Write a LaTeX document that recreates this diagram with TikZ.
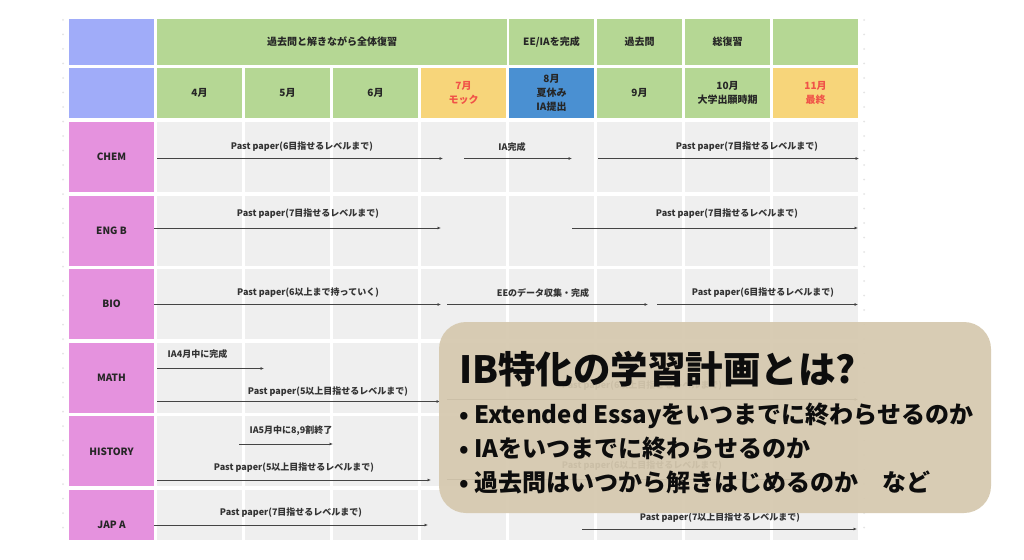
\documentclass[tikz,border=0pt]{standalone}
\usepackage{fontspec}
\setmainfont{Noto Sans CJK JP}
\usepackage{tikz}
\usetikzlibrary{arrows.meta,positioning}
\definecolor{sideColor}{RGB}{160, 172, 249}
\definecolor{greenColor}{RGB}{181, 215, 148}
\definecolor{yellowColor}{RGB}{247, 213, 122}
\definecolor{blueColor}{RGB}{74, 144, 210}
\definecolor{pinkColor}{RGB}{229, 146, 222}
\definecolor{cellColor}{RGB}{239, 239, 239}
\definecolor{redText}{RGB}{240, 82, 72}
\definecolor{barColor}{RGB}{68, 68, 68}
\definecolor{boxColor}{RGB}{214, 201, 175}
\definecolor{dotColor}{RGB}{228, 228, 228}

\tikzset{
    cell/.style={rectangle, inner sep=0pt, minimum width=85pt, align=center,
        font=\fontsize{10}{14}\bfseries\selectfont, text=black!85},
    topcell/.style={cell, minimum height=46pt},
    monthcell/.style={cell, minimum height=50pt},
    rowcell/.style={cell, minimum height=70pt},
    bar/.style={draw=barColor, line width=0.9pt, -{Latex[length=3.5pt,width=3pt]}},
    barlabel/.style={inner sep=0pt, font=\fontsize{9}{11}\bfseries\selectfont, text=black!80},
    infobox/.style={rectangle, rounded corners=27pt, fill=boxColor, fill opacity=0.93,
        minimum width=552pt, minimum height=191pt},
    infotext/.style={inner sep=0pt, anchor=west, text=black!95}
}

% name, x start, x end, y, label x, label y, label
\newcommand{\planbar}[7]{%
    \coordinate (#1-s) at (#2,#4);
    \coordinate (#1-e) at (#3,#4);
    \draw[bar] (#1-s) -- (#1-e);
    \node[barlabel] (#1-t) at (#5,#6) {#7};
}

\begin{document}
\begin{tikzpicture}[x=1pt, y=-1pt]
    \useasboundingbox (0,0) rectangle (1024,559);
    \fill[white] (0,0) rectangle (1024,559);

    % Canvas dots
    \foreach \y in {20,34.5,...,535} {
        \fill[dotColor] (63,\y) circle (1pt);
        \fill[dotColor] (864,\y) circle (1pt);
    }

    % Top header row
    \node[topcell, fill=sideColor] (corner1) at (111.5,42) {};
    \node[topcell, fill=greenColor, minimum width=350pt] (phaseA) at (332,42) {過去問と解きながら全体復習};
    \node[topcell, fill=greenColor] (phaseB) at (551.5,42) {EE/IAを完成};
    \node[topcell, fill=greenColor] (phaseC) at (639.5,42) {過去問};
    \node[topcell, fill=greenColor] (phaseD) at (727.5,42) {総復習};
    \node[topcell, fill=greenColor] (phaseE) at (815.5,42) {};

    % Month row
    \node[monthcell, fill=sideColor] (corner2) at (111.5,93) {};
    \node[monthcell, fill=greenColor] (apr) at (199.5,93) {4月};
    \node[monthcell, fill=greenColor] (may) at (287.5,93) {5月};
    \node[monthcell, fill=greenColor] (jun) at (375.5,93) {6月};
    \node[monthcell, fill=yellowColor, text=redText] (jul) at (463.5,93) {7月\\モック};
    \node[monthcell, fill=blueColor] (aug) at (551.5,93) {8月\\夏休み\\IA提出};
    \node[monthcell, fill=greenColor] (sep) at (639.5,93) {9月};
    \node[monthcell, fill=greenColor] (oct) at (727.5,93) {10月\\大学出願時期};
    \node[monthcell, fill=yellowColor, text=redText] (nov) at (815.5,93) {11月\\最終};

    % Subject rows
    \foreach \r/\subj in {0/CHEM, 1/ENG B, 2/BIO, 3/MATH, 4/HISTORY, 5/JAP A} {
        \node[rowcell, fill=pinkColor] (subj\r) at (111.5,157+73.6*\r) {\subj};
        \foreach \c in {0,...,7}
            \node[rowcell, fill=cellColor] (cell\r-\c) at (199.5+88*\c,157+73.6*\r) {};
    }
    \fill[white] (0,540) rectangle (1024,575);

    % CHEM
    \planbar{chemA}{157}{443}{158.5}{302}{147}{Past paper(6目指せるレベルまで)}
    \planbar{chemB}{464}{572}{158.5}{512}{147}{IA完成}
    \planbar{chemC}{598}{859}{158.5}{747}{147}{Past paper(7目指せるレベルまで)}
    % ENG B
    \planbar{engA}{154}{441}{228}{308}{214}{Past paper(7目指せるレベルまで)}
    \planbar{engB}{572}{858}{228}{727}{214}{Past paper(7目指せるレベルまで)}
    % BIO
    \planbar{bioA}{154}{441}{304.5}{308}{293}{Past paper(6以上まで持っていく)}
    \planbar{bioB}{447}{648}{304.5}{543}{293}{EEのデータ収集・完成}
    \planbar{bioC}{657}{858}{304.5}{763}{293}{Past paper(6目指せるレベルまで)}
    % MATH
    \planbar{mathA}{157}{264}{368.5}{197.5}{354}{IA4月中に完成}
    \planbar{mathB}{157}{440}{401.5}{328}{392}{Past paper(5以上目指せるレベルまで)}
    \planbar{mathC}{447}{858}{399.5}{642}{386}{Past paper(6以上目指せるレベルまで)}
    % HISTORY
    \planbar{histA}{239}{333}{444}{291}{431}{IA5月中に8,9割終了}
    \planbar{histB}{157}{431}{480}{294}{468}{Past paper(5以上目指せるレベルまで)}
    \planbar{histC}{447}{858}{479}{642}{466}{Past paper(6以上目指せるレベルまで)}
    % JAP A
    \planbar{japA}{154}{428}{525}{291}{513}{Past paper(7目指せるレベルまで)}
    \planbar{japB}{582}{857}{529}{720}{518}{Past paper(7以上目指せるレベルまで)}

    % Overlay box
    \node[infobox] (info) at (715,417.5) {};
    \node[infotext, font=\fontsize{37.5}{42}\bfseries\selectfont] (title) at (459,369) {IB特化の学習計画とは?};
    \node[infotext, font=\fontsize{24}{28}\bfseries\selectfont] (pointA) at (459,416) {• Extended Essayをいつまでに終わらせるのか};
    \node[infotext, font=\fontsize{24}{28}\bfseries\selectfont] (pointB) at (459,449) {• IAをいつまでに終わらせるのか};
    \node[infotext, font=\fontsize{24}{28}\bfseries\selectfont] (pointC) at (459,482) {• 過去問はいつから解きはじめるのか\quad など};
\end{tikzpicture}
\end{document}
